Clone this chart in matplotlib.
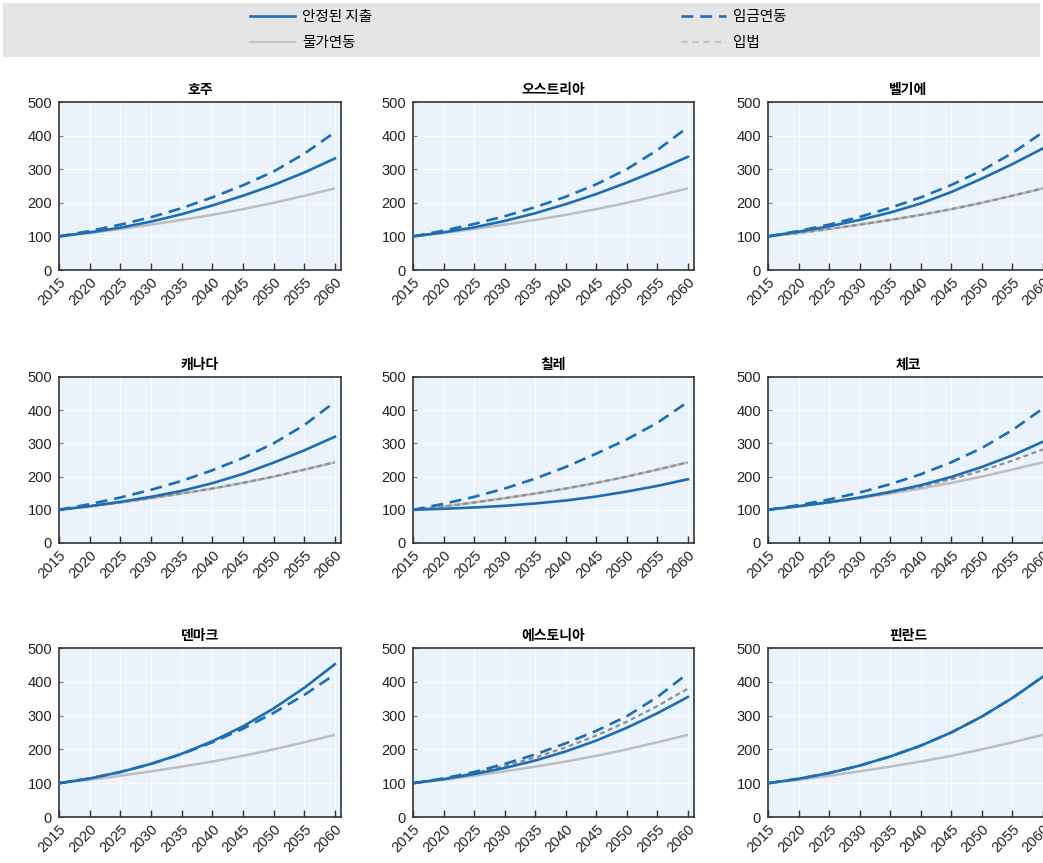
import matplotlib
matplotlib.use("Agg")
import matplotlib.pyplot as plt
from matplotlib.patches import Rectangle
from matplotlib.lines import Line2D

plt.rcParams['font.family'] = ['Liberation Sans', 'Noto Sans CJK KR', 'DejaVu Sans']

years = [2015, 2020, 2025, 2030, 2035, 2040, 2045, 2050, 2055, 2060]
xticks = [2015, 2020, 2025, 2030, 2035, 2040, 2045, 2050, 2055, 2060]
yticks = [0, 100, 200, 300, 400, 500]

countries = ["호주", "오스트리아", "벨기에", "캐나다", "칠레", "체코", "덴마크", "에스토니아", "핀란드"]

price = [100, 110, 122, 135, 149, 164, 181, 200, 221, 243]

stable = {
    "호주":       [100, 112, 126, 144, 166, 192, 221, 253, 290, 332],
    "오스트리아": [100, 112, 127, 146, 169, 196, 226, 260, 297, 337],
    "벨기에":     [100, 114, 130, 149, 171, 198, 232, 272, 315, 362],
    "캐나다":     [100, 111, 124, 139, 157, 180, 208, 242, 279, 320],
    "칠레":       [100, 103, 107, 112, 119, 128, 140, 155, 172, 192],
    "체코":       [100, 111, 123, 137, 154, 174, 199, 229, 264, 305],
    "덴마크":     [100, 114, 133, 157, 187, 224, 268, 321, 382, 452],
    "에스토니아": [100, 112, 127, 145, 167, 194, 226, 264, 307, 355],
    "핀란드":     [100, 113, 130, 152, 179, 211, 250, 297, 352, 415],
}
wage = {
    "호주":       [100, 116, 135, 157, 184, 216, 252, 293, 346, 410],
    "오스트리아": [100, 117, 137, 160, 187, 218, 255, 300, 357, 425],
    "벨기에":     [100, 116, 135, 158, 185, 216, 253, 296, 348, 410],
    "캐나다":     [100, 117, 137, 160, 187, 219, 256, 300, 355, 425],
    "칠레":       [100, 118, 139, 164, 194, 229, 269, 312, 362, 425],
    "체코":       [100, 114, 131, 152, 177, 207, 243, 286, 340, 405],
    "덴마크":     [100, 114, 133, 157, 186, 221, 261, 308, 361, 422],
    "에스토니아": [100, 114, 133, 157, 185, 218, 255, 298, 355, 425],
    "핀란드":     [100, 113, 130, 152, 179, 211, 250, 297, 352, 415],
}
legislated = {
    "벨기에":     [100, 110, 122, 135, 149, 164, 181, 200, 221, 243],
    "캐나다":     [100, 110, 122, 135, 149, 164, 181, 200, 221, 243],
    "칠레":       [100, 110, 122, 135, 149, 164, 181, 200, 221, 243],
    "체코":       [100, 110, 122, 136, 152, 170, 192, 218, 248, 282],
    "에스토니아": [100, 113, 130, 151, 176, 206, 241, 282, 328, 380],
}

labels = ["안정된 지출", "물가연동", "임금연동", "입법"]

BLUE = "#1c6db4"
GRAY = "#bdbdbd"
LGRAY = "#8f8f8f"
BG = "#eaf3fb"

W, H = 1043, 863
fig = plt.figure(figsize=(W / 100, H / 100), dpi=100)

fig.patches.append(Rectangle((3 / W, 1 - 57 / H), 1037 / W, 54 / H,
                             transform=fig.transFigure, facecolor="#e5e5e5",
                             edgecolor="none", zorder=0))

col_lr = [(59, 341), (413, 694), (768, 1049)]
row_tb = [(102, 270), (377, 543), (648, 817)]

for i, c in enumerate(countries):
    r, k = divmod(i, 3)
    l, rr = col_lr[k]
    t, b = row_tb[r]
    ax = fig.add_axes([l / W, 1 - b / H, (rr - l) / W, (b - t) / H])
    ax.set_facecolor(BG)
    ax.grid(True, color="white", lw=0.8, alpha=0.8)
    ax.set_axisbelow(True)
    ax.plot(years, price, color=GRAY, lw=1.8, solid_capstyle="butt", zorder=2)
    if c in legislated:
        ax.plot(years, legislated[c], color=LGRAY, lw=1.6, dashes=(2.2, 1.6), zorder=3)
    ax.plot(years, wage[c], color=BLUE, lw=1.9, dashes=(4.5, 2.6), zorder=4)
    ax.plot(years, stable[c], color=BLUE, lw=1.9, zorder=5)
    ax.set_xlim(2015, 2061)
    ax.set_ylim(0, 500)
    ax.set_xticks(xticks)
    ax.set_yticks(yticks)
    ax.set_xticklabels([str(x) for x in xticks], rotation=45, ha="right",
                       rotation_mode="anchor", fontsize=10.5, color="#222222")
    ax.tick_params(axis="y", labelsize=10.5, labelcolor="#222222")
    ax.tick_params(axis="x", direction="in", length=5, width=1.0, pad=4, color="#333333")
    ax.tick_params(axis="y", direction="in", length=3, width=0.8, pad=5, color="#777777")
    for s in ax.spines.values():
        s.set_color("#333333")
        s.set_linewidth(1.2)
    ax.set_title(c, fontsize=10, fontweight="bold", pad=6,
                 family=["Noto Sans CJK KR", "DejaVu Sans"])

leg_h = [
    Line2D([], [], color=BLUE, lw=1.9),
    Line2D([], [], color="#c4c4c4", lw=1.6),
    Line2D([], [], color=BLUE, lw=1.9, dashes=(4.5, 2.6)),
    Line2D([], [], color="#c4c4c4", lw=1.6, dashes=(3, 2)),
]
fig.legend(leg_h, labels, ncol=2, loc="center left", bbox_to_anchor=(250 / W, 1 - 30 / H),
           frameon=False, columnspacing=21.2, handlelength=3.1, handletextpad=0.45,
           labelspacing=0.8, borderaxespad=0, borderpad=0,
           prop={"family": ["Noto Sans CJK KR", "DejaVu Sans"], "size": 10.5})

fig.savefig("out.png", dpi=100)
